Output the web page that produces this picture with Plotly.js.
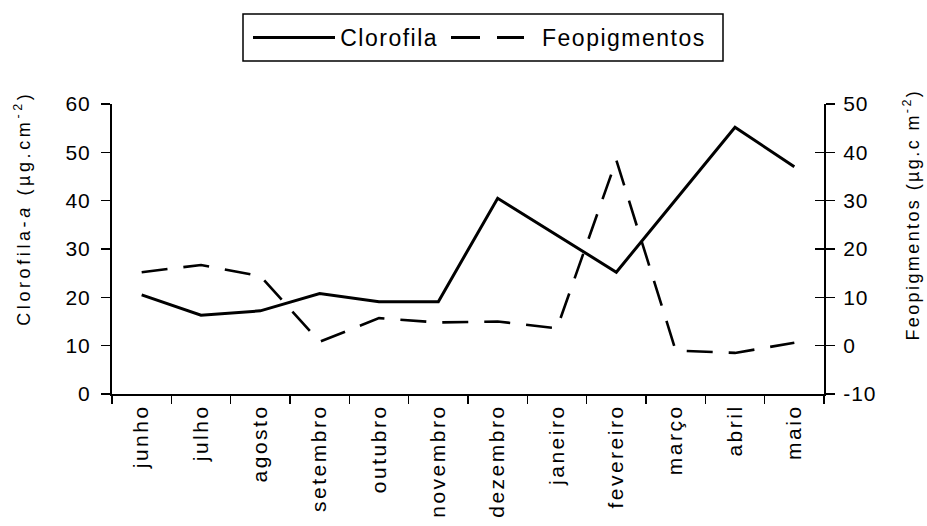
<!DOCTYPE html>
<html>
<head>
<meta charset="utf-8">
<script src="https://cdn.plot.ly/plotly-3.0.1.min.js"></script>
<style>
html,body{margin:0;padding:0;background:#fff;}
#chart{width:927px;height:526px;}
#chart .xtick text{letter-spacing:2.5px;}
#chart .ytick text, #chart .y2tick text{letter-spacing:1px;}
#chart g.annotation[data-index="0"] text{letter-spacing:3.6px;}
#chart g.annotation[data-index="1"] text{letter-spacing:2.4px;}
#chart g.annotation[data-index="2"] text, #chart g.annotation[data-index="3"] text{letter-spacing:1.5px;}
</style>
</head>
<body>
<div id="chart"></div>
<script>
const months = ["junho","julho","agosto","setembro","outubro","novembro","dezembro","janeiro","fevereiro","março","abril","maio"];
const clorofila = [20.5, 16.3, 17.2, 20.8, 19.1, 19.1, 40.5, 32.9, 25.2, 40.2, 55.2, 47.0];
const feopigmentos = [15.2, 16.7, 14.4, 0.8, 5.7, 4.8, 5.0, 3.6, 38.4, -1.0, -1.5, 0.6];
const leftTicks = [0,10,20,30,40,50,60];
const rightTicks = [-10,0,10,20,30,40,50];
const seriesNames = ["Clorofila", "Feopigmentos"];
const leftTitle = "Clorofila-<i>a</i> (µg.cm<sup>-2</sup>)";
const rightTitle = "Feopigmentos (µg.c m<sup>-2</sup>)";

const FONT = "Liberation Sans, Arial, sans-serif";
const W = 927, H = 526;
const M = {l: 112, r: 103, t: 104, b: 132};
const PW = W - M.l - M.r, PH = H - M.t - M.b;
// pixel -> paper helpers (for legend box / titles placement only)
const px = v => (v - M.l) / PW;
const py = v => (H - M.b - v) / PH;

const traces = [
  {x: months, y: clorofila, type: "scatter", mode: "lines", name: seriesNames[0],
   line: {color: "#000", width: 3}, yaxis: "y"},
  {x: months, y: feopigmentos, type: "scatter", mode: "lines", name: seriesNames[1],
   line: {color: "#000", width: 2.6, dash: "26px,16px"}, yaxis: "y2"},
  {x: months, y: feopigmentos, type: "scatter", mode: "lines", showlegend: false,
   hoverinfo: "skip", line: {color: "rgba(0,0,0,0)", width: 0}, yaxis: "y3"}
];

const legendY = py(37.5);
const shapes = [
  {type: "rect", xref: "paper", yref: "paper", x0: px(243), x1: px(723), y0: py(61), y1: py(14),
   line: {color: "#000", width: 1.5}, fillcolor: "#fff", layer: "above"},
  {type: "line", xref: "paper", yref: "paper", x0: px(253), x1: px(335), y0: legendY, y1: legendY,
   line: {color: "#000", width: 3}},
  {type: "line", xref: "paper", yref: "paper", x0: px(451), x1: px(480), y0: legendY, y1: legendY,
   line: {color: "#000", width: 3}},
  {type: "line", xref: "paper", yref: "paper", x0: px(497), x1: px(524), y0: legendY, y1: legendY,
   line: {color: "#000", width: 3}}
];

const annotations = [
  {text: leftTitle, xref: "paper", yref: "paper", x: px(22), y: py(208), textangle: -90,
   showarrow: false, xanchor: "center", yanchor: "middle", font: {size: 18, family: FONT, color: "#000"}},
  {text: rightTitle, xref: "paper", yref: "paper", x: px(911), y: py(215), textangle: -90,
   showarrow: false, xanchor: "center", yanchor: "middle", font: {size: 18, family: FONT, color: "#000"}},
  {text: seriesNames[0], xref: "paper", yref: "paper", x: px(389), y: legendY,
   showarrow: false, xanchor: "center", yanchor: "middle", font: {size: 23, family: FONT, color: "#000"}},
  {text: seriesNames[1], xref: "paper", yref: "paper", x: px(624), y: legendY,
   showarrow: false, xanchor: "center", yanchor: "middle", font: {size: 23, family: FONT, color: "#000"}}
];

const layout = {
  width: W, height: H,
  margin: M,
  paper_bgcolor: "#fff", plot_bgcolor: "#fff",
  font: {family: FONT, color: "#000", size: 17},
  showlegend: false,
  shapes: shapes,
  annotations: annotations,
  xaxis: {type: "category", range: [-0.5, 11.5], tickson: "boundaries",
          ticks: "outside", ticklen: 8, tickwidth: 1.5, tickcolor: "#000",
          showline: true, linecolor: "#000", linewidth: 2, showgrid: false,
          zeroline: false, tickangle: -90, tickfont: {size: 21, family: FONT}},
  yaxis: {range: [0, 60], tickvals: leftTicks, ticktext: leftTicks.map(String),
          ticks: "outside", ticklen: 9, tickwidth: 1.5, tickcolor: "#000",
          showline: true, linecolor: "#000", linewidth: 2, showgrid: false,
          zeroline: false, tickfont: {size: 21, family: FONT}, ticklabelstandoff: 6},
  yaxis2: {range: [-10, 50], tickvals: rightTicks, ticktext: rightTicks.map(String),
           overlaying: "y", side: "right",
           ticks: "outside", ticklen: 9, tickwidth: 1.5, tickcolor: "#000",
           showline: true, linecolor: "#000", linewidth: 2, showgrid: false,
           zeroline: false, tickfont: {size: 21, family: FONT}, ticklabelstandoff: 4},
  yaxis3: {range: [-10, 50], tickvals: rightTicks, overlaying: "y", side: "right",
           ticks: "inside", ticklen: 9, tickwidth: 1.5, tickcolor: "#000",
           showticklabels: false, showline: false, showgrid: false, zeroline: false}
};

Plotly.newPlot("chart", traces, layout, {displayModeBar: false, staticPlot: true});
</script>
</body>
</html>
